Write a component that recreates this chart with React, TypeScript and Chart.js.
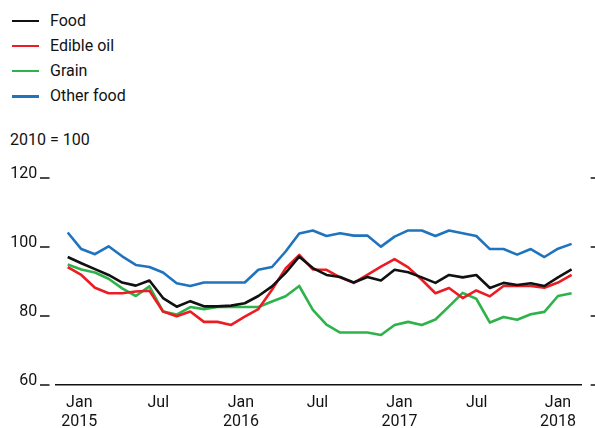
import React, { useEffect, useRef } from 'react';
import { Chart, registerables } from 'chart.js';

Chart.register(...registerables);

// Monthly observations, Jan 2015 - Feb 2018 (index 0 = Jan 2015)
const months = [
  'Jan 2015', 'Feb 2015', 'Mar 2015', 'Apr 2015', 'May 2015', 'Jun 2015', 'Jul 2015', 'Aug 2015', 'Sep 2015', 'Oct 2015', 'Nov 2015', 'Dec 2015',
  'Jan 2016', 'Feb 2016', 'Mar 2016', 'Apr 2016', 'May 2016', 'Jun 2016', 'Jul 2016', 'Aug 2016', 'Sep 2016', 'Oct 2016', 'Nov 2016', 'Dec 2016',
  'Jan 2017', 'Feb 2017', 'Mar 2017', 'Apr 2017', 'May 2017', 'Jun 2017', 'Jul 2017', 'Aug 2017', 'Sep 2017', 'Oct 2017', 'Nov 2017', 'Dec 2017',
  'Jan 2018', 'Feb 2018',
];

const food = [
  97.1, 95.3, 93.6, 91.9, 89.7, 88.8, 90.3, 85.2, 82.7, 84.3, 82.8, 82.8,
  83.0, 83.7, 85.8, 88.6, 92.5, 97.2, 93.9, 91.9, 91.3, 89.7, 91.3, 90.3,
  93.4, 92.7, 91.2, 89.6, 91.9, 91.2, 91.9, 88.1, 89.6, 89.0, 89.5, 88.7,
  91.2, 93.5,
];

const edibleOil = [
  94.2, 91.9, 88.2, 86.6, 86.6, 87.1, 87.3, 81.3, 79.9, 81.3, 78.3, 78.3,
  77.4, 79.8, 82.0, 87.6, 93.8, 97.7, 93.5, 93.4, 91.2, 89.6, 91.9, 94.3,
  96.5, 94.1, 90.5, 86.6, 88.1, 85.2, 87.4, 85.7, 88.7, 88.7, 88.7, 88.2,
  89.7, 91.9,
];

const grain = [
  94.9, 93.5, 92.6, 90.8, 88.0, 85.8, 88.6, 81.3, 80.4, 82.6, 82.0, 82.6,
  82.6, 82.6, 82.6, 84.2, 85.7, 88.7, 81.8, 77.5, 75.2, 75.2, 75.2, 74.5,
  77.4, 78.3, 77.4, 79.0, 82.8, 86.7, 85.0, 78.1, 79.7, 78.9, 80.5, 81.2,
  85.8, 86.6,
];

const otherFood = [
  104.2, 99.4, 97.9, 100.2, 97.3, 94.8, 94.2, 92.6, 89.5, 88.7, 89.7, 89.7,
  89.7, 89.7, 93.4, 94.2, 98.7, 103.9, 104.8, 103.2, 104.0, 103.3, 103.3, 100.1,
  103.0, 104.8, 104.8, 103.2, 104.8, 104.0, 103.2, 99.4, 99.4, 97.8, 99.4, 97.1,
  99.5, 100.9,
];

const seriesNames = ['Food', 'Edible oil', 'Grain', 'Other food'];
const seriesColors = ['#111111', '#ec1c24', '#2db34a', '#1f74bd'];

// x-axis tick label positions (in month-index units) and their labels
const xTickPositions = [0.85, 6.65, 12.72, 18.34, 24.36, 30.03, 36.0];
const xTickLabels = [['Jan', '2015'], ['Jul'], ['Jan', '2016'], ['Jul'], ['Jan', '2017'], ['Jul'], ['Jan', '2018']];

const yTickValues = [60, 80, 100, 120];
const subtitle = '2010 = 100';

const FONT = 'Roboto, "Noto Sans", sans-serif';
const TEXT = '#121212';

const tickMarks = {
  id: 'tickMarks',
  afterDraw(chart: any) {
    const ys = chart.scales.y;
    const area = chart.chartArea;
    const ctx = chart.ctx;
    ctx.save();
    ctx.strokeStyle = TEXT;
    ctx.lineWidth = 1.5;
    ys.ticks.forEach((t: any) => {
      const py = ys.getPixelForValue(t.value);
      ctx.beginPath();
      ctx.moveTo(area.left - 16, py);
      ctx.lineTo(area.left - 6.5, py);
      ctx.moveTo(area.right + 9, py);
      ctx.lineTo(area.right + 14, py);
      ctx.stroke();
    });
    ctx.restore();
  },
};

export default function App() {
  const canvasRef = useRef<HTMLCanvasElement | null>(null);

  useEffect(() => {
    if (!canvasRef.current) return;
    const seriesData = [food, edibleOil, grain, otherFood];
    const chart = new Chart(canvasRef.current, {
      type: 'line',
      data: {
        datasets: seriesData.map((vals, k) => ({
          label: seriesNames[k],
          data: vals.map((v, i) => ({ x: i, y: v, m: months[i] })),
          borderColor: seriesColors[k],
          backgroundColor: seriesColors[k],
          borderWidth: 2.6,
          pointRadius: 0,
          tension: 0,
          fill: false,
          borderJoinStyle: 'round' as const,
          borderCapStyle: 'butt' as const,
        })),
      },
      options: {
        animation: false,
        responsive: true,
        maintainAspectRatio: false,
        devicePixelRatio: 1,
        layout: { padding: { top: 178, right: 13.3, bottom: 0, left: 0 } },
        plugins: { legend: { display: false }, tooltip: { enabled: false }, title: { display: false } },
        scales: {
          x: {
            type: 'linear',
            min: -0.86,
            max: 37.74,
            afterBuildTicks: (scale: any) => {
              scale.ticks = xTickPositions.map((v) => ({ value: v }));
            },
            afterFit: (scale: any) => {
              scale.height = 43;
            },
            grid: { display: false, drawTicks: false },
            border: { display: true, color: TEXT, width: 1.5 },
            ticks: {
              autoSkip: false,
              maxRotation: 0,
              minRotation: 0,
              padding: 8,
              color: TEXT,
              font: { family: FONT, size: 16, lineHeight: 1.2 },
              callback: (_v: any, i: number) => xTickLabels[i],
            },
          },
          y: {
            type: 'linear',
            position: 'left',
            min: 60,
            max: 120,
            afterBuildTicks: (scale: any) => {
              scale.ticks = yTickValues.map((v) => ({ value: v }));
            },
            afterFit: (scale: any) => {
              scale.width = 56;
            },
            grid: { display: false, drawTicks: false },
            border: { display: false },
            ticks: {
              padding: 18.7,
              labelOffset: -4.5,
              color: TEXT,
              font: { family: FONT, size: 16 },
              callback: (v: any) => String(v),
            },
          },
        },
      },
      plugins: [tickMarks],
    } as any);
    return () => chart.destroy();
  }, []);

  const legendCenters = [21, 46, 71, 96.5];

  return (
    <div style={{ position: 'absolute', left: 0, top: 0, width: 595, height: 428, background: '#fff', fontFamily: FONT, color: TEXT }}>
      {seriesNames.map((name, k) => (
        <React.Fragment key={name}>
          <div style={{ position: 'absolute', left: 12, top: legendCenters[k] - 1.35, width: 27, height: 2.7, background: seriesColors[k] }} />
          <div style={{ position: 'absolute', left: 50, top: legendCenters[k] - 10.5, fontSize: 16, lineHeight: '20px', whiteSpace: 'nowrap' }}>{name}</div>
        </React.Fragment>
      ))}
      <div style={{ position: 'absolute', left: 10, top: 130, fontSize: 16, lineHeight: '20px', whiteSpace: 'nowrap' }}>{subtitle}</div>
      <div style={{ position: 'absolute', left: 0, top: 0, width: 595, height: 428 }}>
        <canvas ref={canvasRef} />
      </div>
    </div>
  );
}
